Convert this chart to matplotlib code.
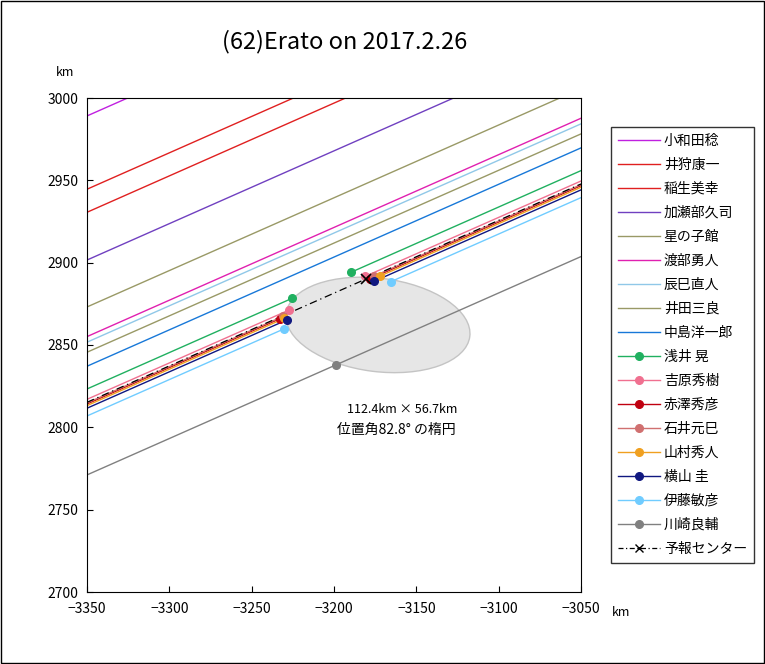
import numpy as np
import matplotlib
matplotlib.use("Agg")
import matplotlib.pyplot as plt
from matplotlib.patches import Ellipse, Rectangle

plt.rcParams["font.family"] = ["Noto Sans CJK JP", "DejaVu Sans"]

SLOPE = 0.442
X0, X1 = -3350, -3050

neg_names = ["小和田稔", "井狩康一", "稲生美幸", "加瀬部久司", "星の子館", "渡部勇人", "辰巳直人", "井田三良", "中島洋一郎"]
neg_colors = ["#c020e0", "#e02020", "#e02020", "#7040c0", "#999966", "#e020b0", "#90c8e8", "#999966", "#1878d8"]
neg_y0 = [2989.1, 2944.6, 2930.6, 2901.6, 2873.1, 2855.1, 2851.7, 2845.6, 2837.1]

pos_names = ["浅井 晃", "吉原秀樹", "赤澤秀彦", "石井元巳", "山村秀人", "横山 圭", "伊藤敏彦", "川崎良輔"]
pos_colors = ["#20b060", "#f07090", "#c00010", "#d07070", "#f0a020", "#101880", "#70ccff", "#808080"]
pos_y0 = [2823.3, 2817.0, 2814.2, 2814.8, 2813.2, 2811.6, 2806.9, 2771.1]
pos_d = [-3225.5, -3227.4, -3232.8, -3231.0, -3230.2, -3228.4, -3230.4, -3198.8]
pos_r = [-3189.7, -3181.2, -3178.2, -3176.0, -3172.1, -3175.7, -3165.4, None]

center_y0 = 2815.2
center_x = -3180.6

ell_center = (-3173.3, 2862.2)
ell_major, ell_minor, ell_angle = 112.4, 56.7, -7.2

fig = plt.figure(figsize=(7.65, 6.64), dpi=100)
fig.patches.append(Rectangle((0.001, 0.001), 0.998, 0.998, transform=fig.transFigure,
                             fill=False, edgecolor="black", lw=1))
ax = fig.add_axes([87/765, 72/664, 494/765, 494/664])
ax.set_xlim(X0, X1)
ax.set_ylim(2700, 3000)

ax.add_patch(Ellipse(ell_center, ell_major, ell_minor, angle=ell_angle,
                     facecolor="#e6e6e6", edgecolor="#c4c4c4", lw=1, zorder=1))

def yl(y0, x):
    return y0 + SLOPE * (np.asarray(x) - X0)

for n, c, y0 in zip(neg_names, neg_colors, neg_y0):
    ax.plot([X0, X1], yl(y0, [X0, X1]), color=c, lw=1, label=n, zorder=2)

MS = 5.5
for n, c, y0, d, r in zip(pos_names, pos_colors, pos_y0, pos_d, pos_r):
    if r is None:
        ax.plot([X0, X1], yl(y0, [X0, X1]), color=c, lw=1, zorder=2)
        ax.plot([d], yl(y0, [d]), "o", color=c, ms=MS, zorder=4)
    else:
        ax.plot([X0, d], yl(y0, [X0, d]), color=c, lw=1, zorder=2)
        ax.plot([r, X1], yl(y0, [r, X1]), color=c, lw=1, zorder=2)
        ax.plot([d, r], yl(y0, [d, r]), "o", color=c, ms=MS, lw=0, zorder=4)
    ax.plot([], [], "-o", color=c, ms=MS, lw=1, label=n)

ax.plot([X0, X1], yl(center_y0, [X0, X1]), color="black", lw=0.9, ls=(0, (6, 3, 1, 3)), zorder=3)
ax.plot([center_x], yl(center_y0, [center_x]), "x", color="black", ms=7, mew=1.2, zorder=5)
ax.plot([], [], color="black", lw=0.9, ls=(0, (4, 2, 1, 2)), marker="x", ms=6, label="予報センター")

ax.text(-3192, 2809, "112.4km × 56.7km", fontsize=9)
ax.text(-3198, 2796, "位置角82.8° の楕円", fontsize=10)

ax.set_xticks(np.arange(-3350, -3049, 50))
ax.set_yticks(np.arange(2700, 3001, 50))
ax.tick_params(labelsize=10, direction="in", length=4)
ax.tick_params(axis="x", pad=7)
ax.tick_params(axis="y", pad=6)
fig.text(345/765, 1 - 42/664, "(62)Erato on 2017.2.26", fontsize=17, ha="center", va="center")
fig.text(65/765, 1 - 72/664, "km", fontsize=9, ha="center", va="center")
fig.text(621/765, 1 - 612/664, "km", fontsize=9, ha="center", va="center")

leg = fig.legend(loc="upper left", bbox_to_anchor=(611/765, 1 - 127/664), fontsize=10,
                 frameon=True, fancybox=False, edgecolor="black", handlelength=3,
                 handletextpad=0.3, labelspacing=0.72, borderpad=0.5, borderaxespad=0)
leg.get_frame().set_linewidth(1)

fig.savefig("out.png", dpi=100)
